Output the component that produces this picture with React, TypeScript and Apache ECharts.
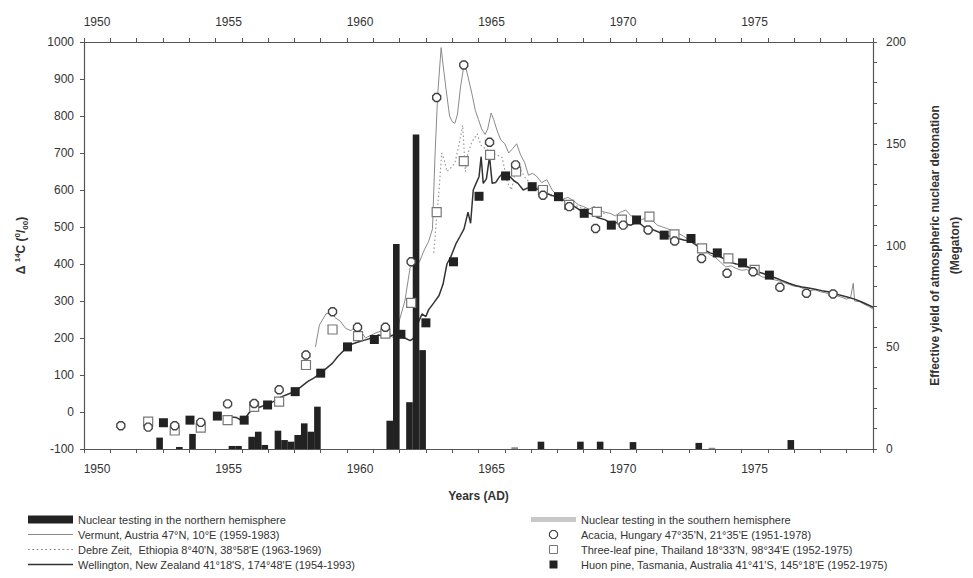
import React, { useEffect, useRef } from 'react';
import * as echarts from 'echarts';

const FONT = '"Liberation Sans", Arial, Helvetica, sans-serif';

// x-axis tick labels (years)
const xLabelYears = [1950, 1955, 1960, 1965, 1970, 1975];
// right-axis labelled values (Megaton)
const rightLabelValues = [0, 50, 100, 150, 200];

// Nuclear testing, quarterly effective yield (Megaton); quarter start year
const northQuarters = [1952.75, 1953.5, 1954.0, 1955.5, 1955.75, 1956.25, 1956.5, 1956.75, 1957.25, 1957.5, 1957.75, 1958.0, 1958.25, 1958.5, 1958.75, 1961.5, 1961.75, 1962.25, 1962.5, 1962.75, 1967.25, 1968.75, 1969.5, 1970.75, 1973.25, 1976.75];
const northYield = [5.6, 1.0, 7.4, 1.5, 1.5, 6.0, 8.5, 2.0, 9.0, 4.4, 3.6, 6.9, 12.6, 8.5, 20.8, 13.9, 100.7, 23.0, 154.6, 48.6, 3.6, 3.6, 3.6, 3.4, 3.0, 4.4];
const southQuarters = [1966.25, 1973.75];
const southYield = [0.8, 0.6];

// Vermunt, Austria (thin grey line)
const vermuntYears = [1958.8, 1958.95, 1959.2, 1959.4, 1959.55, 1959.75, 1959.95, 1960.15, 1960.35, 1960.5, 1960.7, 1960.9, 1961.1, 1961.35, 1961.55, 1961.7, 1961.85, 1962.0, 1962.2, 1962.4, 1962.55, 1962.75, 1962.95, 1963.1, 1963.25, 1963.35, 1963.45, 1963.58, 1963.65, 1963.77, 1963.9, 1964.0, 1964.1, 1964.2, 1964.32, 1964.42, 1964.52, 1964.62, 1964.75, 1964.88, 1965.0, 1965.12, 1965.25, 1965.35, 1965.48, 1965.58, 1965.7, 1965.85, 1966.0, 1966.15, 1966.3, 1966.45, 1966.6, 1966.75, 1966.9, 1967.05, 1967.2, 1967.4, 1967.6, 1967.8, 1968.0, 1968.2, 1968.4, 1968.6, 1968.8, 1969.0, 1969.2, 1969.4, 1969.6, 1969.8, 1970.0, 1970.2, 1970.4, 1970.6, 1970.8, 1971.0, 1971.2, 1971.4, 1971.6, 1971.8, 1972.0, 1972.2, 1972.4, 1972.6, 1972.8, 1973.0, 1973.2, 1973.4, 1973.6, 1973.8, 1974.0, 1974.2, 1974.4, 1974.6, 1974.8, 1975.0, 1975.2, 1975.4, 1975.6, 1975.8, 1976.0, 1976.2, 1976.4, 1976.6, 1976.8, 1977.0, 1977.2, 1977.4, 1977.6, 1977.8, 1978.0, 1978.2, 1978.4, 1978.6, 1978.8, 1979.0, 1979.15, 1979.25, 1979.3, 1979.5, 1979.7, 1979.85, 1980.0];
const vermuntD14C = [176, 235, 265, 272, 255, 245, 226, 220, 232, 222, 200, 207, 214, 220, 222, 205, 192, 250, 300, 390, 400, 405, 440, 460, 495, 700, 860, 985, 940, 870, 800, 785, 780, 805, 880, 925, 930, 900, 860, 815, 790, 765, 750, 765, 808, 790, 762, 735, 725, 700, 712, 725, 695, 675, 640, 645, 638, 620, 628, 600, 585, 575, 580, 572, 560, 555, 548, 555, 545, 540, 537, 530, 540, 546, 530, 528, 520, 525, 518, 505, 500, 495, 488, 483, 475, 466, 460, 445, 435, 425, 418, 405, 392, 395, 388, 383, 385, 375, 372, 365, 362, 358, 355, 350, 345, 340, 338, 332, 328, 330, 325, 322, 318, 315, 310, 305, 310, 348, 300, 298, 290, 285, 278];

// Debre Zeit, Ethiopia (dotted line)
const debreYears = [1963.3, 1963.4, 1963.5, 1963.6, 1963.7, 1963.8, 1963.95, 1964.1, 1964.25, 1964.4, 1964.5, 1964.6, 1964.75, 1964.95, 1965.1, 1965.3, 1965.5, 1965.7, 1965.9, 1966.1, 1966.25, 1966.4, 1966.6, 1966.8, 1967.0, 1967.3, 1967.6, 1968.0, 1968.3, 1968.6, 1969.0, 1969.4, 1969.9];
const debreD14C = [430, 520, 600, 700, 680, 650, 660, 672, 720, 775, 650, 700, 730, 752, 720, 710, 700, 695, 688, 620, 600, 650, 655, 630, 618, 605, 590, 578, 565, 560, 550, 545, 535];

// Wellington, New Zealand (dark line)
const wellingtonYears = [1955.5, 1955.8, 1956.05, 1956.3, 1956.5, 1956.9, 1957.2, 1957.5, 1957.75, 1958.0, 1958.25, 1958.5, 1958.75, 1959.0, 1959.25, 1959.45, 1959.65, 1959.83, 1960.0, 1960.2, 1960.45, 1960.7, 1960.95, 1961.2, 1961.4, 1961.6, 1961.8, 1962.0, 1962.2, 1962.4, 1962.55, 1962.7, 1962.85, 1963.0, 1963.1, 1963.3, 1963.5, 1963.65, 1963.8, 1963.95, 1964.15, 1964.3, 1964.45, 1964.6, 1964.7, 1964.8, 1964.92, 1965.02, 1965.1, 1965.18, 1965.3, 1965.42, 1965.52, 1965.65, 1965.8, 1965.92, 1966.05, 1966.2, 1966.35, 1966.5, 1966.7, 1966.85, 1967.05, 1967.3, 1967.55, 1967.8, 1968.05, 1968.3, 1968.55, 1968.8, 1969.05, 1969.3, 1969.55, 1969.8, 1970.05, 1970.3, 1970.55, 1970.8, 1971.05, 1971.3, 1971.55, 1971.8, 1972.05, 1972.3, 1972.55, 1972.8, 1973.05, 1973.3, 1973.55, 1973.8, 1974.05, 1974.3, 1974.55, 1974.8, 1975.05, 1975.3, 1975.55, 1975.8, 1976.05, 1976.3, 1976.55, 1976.8, 1977.05, 1977.3, 1977.55, 1977.8, 1978.05, 1978.3, 1978.55, 1978.8, 1979.05, 1979.3, 1979.55, 1979.8, 1980.0];
const wellingtonD14C = [-13, -15, -25, 0, 8, 19, 28, 41, 48, 55, 68, 82, 92, 105, 120, 132, 150, 163, 175, 184, 190, 195, 200, 208, 205, 203, 210, 203, 200, 193, 200, 240, 265, 258, 276, 295, 315, 345, 400, 420, 456, 475, 495, 540, 510, 600, 620, 636, 690, 618, 630, 690, 618, 620, 636, 645, 630, 636, 625, 618, 600, 605, 609, 600, 592, 585, 580, 570, 560, 548, 540, 535, 525, 520, 510, 512, 508, 505, 515, 500, 495, 488, 478, 475, 470, 465, 462, 450, 440, 430, 425, 415, 405, 400, 398, 390, 380, 375, 368, 362, 355, 348, 342, 338, 335, 332, 328, 325, 320, 315, 310, 305, 298, 290, 283];

// Acacia, Hungary (open round markers)
const acaciaYears = [1951.4, 1952.44, 1953.45, 1954.44, 1955.46, 1956.47, 1957.42, 1958.44, 1959.45, 1960.4, 1961.46, 1962.44, 1963.41, 1964.44, 1965.42, 1966.41, 1967.45, 1968.45, 1969.45, 1970.5, 1971.45, 1972.46, 1973.48, 1974.45, 1975.44, 1976.46, 1977.47, 1978.48];
const acaciaD14C = [-37, -41, -37, -28, 22, 23, 60, 154, 271, 229, 229, 406, 850, 938, 729, 668, 586, 555, 496, 505, 492, 462, 415, 375, 379, 337, 321, 319];

// Three-leaf pine, Thailand (open squares)
const pineYears = [1952.44, 1953.45, 1954.44, 1955.46, 1956.47, 1957.42, 1958.44, 1959.45, 1960.42, 1961.46, 1962.44, 1963.41, 1964.44, 1965.44, 1966.43, 1967.45, 1968.45, 1969.5, 1970.45, 1971.5, 1972.45, 1973.5, 1974.5, 1975.5];
const pineD14C = [-26, -50, -42, -22, 14, 28, 127, 223, 205, 212, 295, 540, 678, 695, 650, 600, 560, 541, 520, 528, 480, 442, 415, 384];

// Huon pine, Tasmania (filled squares)
const huonYears = [1953.02, 1954.03, 1955.07, 1956.09, 1956.98, 1958.03, 1959.0, 1960.02, 1961.04, 1962.05, 1963.0, 1964.05, 1965.02, 1966.03, 1967.04, 1968.04, 1969.02, 1970.05, 1971.01, 1972.06, 1973.08, 1974.08, 1975.04, 1976.06];
const huonD14C = [-29, -22, -11, -22, 19, 55, 105, 176, 196, 210, 241, 406, 583, 638, 609, 582, 537, 505, 519, 478, 469, 430, 403, 370];

const NAMES = {
  north: 'Nuclear testing in the northern hemisphere',
  vermunt: 'Vermunt, Austria 47°N, 10°E (1959-1983)',
  debre: "Debre Zeit,  Ethiopia 8°40'N, 38°58'E (1963-1969)",
  wellington: "Wellington, New Zealand 41°18'S, 174°48'E (1954-1993)",
  south: 'Nuclear testing in the southern hemisphere',
  acacia: "Acacia, Hungary 47°35'N, 21°35'E (1951-1978)",
  pine: "Three-leaf pine, Thailand 18°33'N, 98°34'E (1952-1975)",
  huon: "Huon pine, Tasmania, Australia 41°41'S, 145°18'E (1952-1975)",
};

const zip = (xs: number[], ys: number[]) => xs.map((x, i) => [x, ys[i]]);

const SQUARE = 'path://M0,0H10V10H0Z';
const OCTAGON = 'path://M3,0H7L10,3V7L7,10H3L0,7V3Z';
const LINE_THIN = 'path://M0,0H45V1H0Z';
const LINE_THICK = 'path://M0,0H45V1.6H0Z';
const BAR_LIGHT = 'path://M0,0H45V5H0Z';
const DOTTED = 'path://' + Array.from({ length: 11 }, (_, i) => `M${i * 4.4},0H${i * 4.4 + 1.8}V1H${i * 4.4}Z`).join('');

const AXIS_COLOR = '#555';
const TEXT_COLOR = '#333';

export default function App() {
  const ref = useRef<HTMLDivElement>(null);

  useEffect(() => {
    if (!ref.current) return;
    const chart = echarts.init(ref.current, null, { renderer: 'svg' });

    const xLabelFmt = (v: number) => (xLabelYears.includes(Math.round(v)) && Math.abs(v - Math.round(v)) < 1e-6 ? String(Math.round(v)) : '');
    const xAxisCommon = {
      type: 'value',
      min: 1950,
      max: 1980,
      interval: 1,
      splitLine: { show: false },
      axisLine: { show: true, onZero: false, lineStyle: { color: AXIS_COLOR, width: 1.2 } },
      axisTick: { show: true, length: 4, lineStyle: { color: AXIS_COLOR } },
      axisLabel: {
        formatter: xLabelFmt,
        color: TEXT_COLOR,
        fontFamily: FONT,
        fontSize: 12,
        margin: 14,
        padding: [0, 0, 0, 26],
      },
    };

    const legendCommon = {
      orient: 'vertical',
      top: 513,
      itemWidth: 45,
      itemHeight: 8,
      itemGap: 2,
      padding: 0,
      selectedMode: false,
      symbolKeepAspect: true,
      textStyle: { fontFamily: FONT, fontSize: 11, color: TEXT_COLOR, lineHeight: 13 },
    };

    chart.setOption({
      animation: false,
      backgroundColor: '#fff',
      textStyle: { fontFamily: FONT },
      grid: { left: 84, right: 100, top: 42, bottom: 129, containLabel: false },
      legend: [
        {
          ...legendCommon,
          left: 28,
          data: [
            { name: NAMES.north, icon: 'rect', itemStyle: { color: '#222', borderWidth: 0 } },
            { name: NAMES.vermunt, icon: LINE_THIN, itemStyle: { color: '#888', borderWidth: 0 } },
            { name: NAMES.debre, icon: DOTTED, itemStyle: { color: '#888', borderWidth: 0 } },
            { name: NAMES.wellington, icon: LINE_THICK, itemStyle: { color: '#333', borderWidth: 0 } },
          ],
        },
        {
          ...legendCommon,
          left: 531,
          data: [
            { name: NAMES.south, icon: BAR_LIGHT, itemStyle: { color: '#c8c8c8', borderWidth: 0 } },
            { name: NAMES.acacia, icon: OCTAGON, itemStyle: { color: '#fff', borderColor: '#444', borderWidth: 1.2 } },
            { name: NAMES.pine, icon: SQUARE, itemStyle: { color: '#fff', borderColor: '#777', borderWidth: 1 } },
            { name: NAMES.huon, icon: SQUARE, itemStyle: { color: '#222', borderWidth: 0 } },
          ],
        },
      ],
      xAxis: [
        {
          ...xAxisCommon,
          position: 'bottom',
          name: 'Years (AD)',
          nameLocation: 'middle',
          nameGap: 41,
          nameTextStyle: { fontFamily: FONT, fontSize: 12, fontWeight: 'bold', color: TEXT_COLOR },
        },
        { ...xAxisCommon, position: 'top' },
      ],
      yAxis: [
        {
          type: 'value',
          position: 'left',
          min: -100,
          max: 1000,
          interval: 100,
          splitLine: { show: false },
          axisLine: { show: true, onZero: false, lineStyle: { color: AXIS_COLOR, width: 1.2 } },
          axisTick: { show: true, length: 4, lineStyle: { color: AXIS_COLOR } },
          axisLabel: { color: TEXT_COLOR, fontFamily: FONT, fontSize: 12, margin: 10, formatter: (v: number) => String(v) },
          name: '{b|Δ }{sup|14}{b|C (}{sup|0}{b|/}{sub|00}{b|)}',
          nameLocation: 'middle',
          nameRotate: 90,
          nameGap: 55,
          nameTextStyle: {
            color: TEXT_COLOR,
            rich: {
              b: { fontFamily: FONT, fontSize: 12, fontWeight: 'bold', color: TEXT_COLOR, lineHeight: 16 },
              sup: { fontFamily: FONT, fontSize: 8, fontWeight: 'bold', color: TEXT_COLOR, verticalAlign: 'top', lineHeight: 16 },
              sub: { fontFamily: FONT, fontSize: 8, fontWeight: 'bold', color: TEXT_COLOR, verticalAlign: 'bottom', lineHeight: 16 },
            },
          },
        },
        {
          type: 'value',
          position: 'right',
          min: 0,
          max: 200,
          interval: 10,
          splitLine: { show: false },
          axisLine: { show: true, onZero: false, lineStyle: { color: AXIS_COLOR, width: 1.2 } },
          axisTick: { show: true, length: 4, lineStyle: { color: AXIS_COLOR } },
          axisLabel: {
            color: TEXT_COLOR,
            fontFamily: FONT,
            fontSize: 12,
            margin: 13,
            formatter: (v: number) => (rightLabelValues.includes(v) ? String(v) : ''),
          },
          name: 'Effective yield of atmospheric nuclear detonation\n(Megaton)',
          nameLocation: 'middle',
          nameRotate: 90,
          nameGap: 52,
          nameTextStyle: { fontFamily: FONT, fontSize: 12, fontWeight: 'bold', color: TEXT_COLOR, lineHeight: 20, align: 'center' },
        },
      ],
      series: [
        {
          name: NAMES.north,
          type: 'bar',
          xAxisIndex: 0,
          yAxisIndex: 1,
          barWidth: 6.6,
          barGap: '-100%',
          itemStyle: { color: '#222' },
          z: 4,
          data: northQuarters.map((q, i) => [q + 0.125, northYield[i]]),
        },
        {
          name: NAMES.south,
          type: 'bar',
          xAxisIndex: 0,
          yAxisIndex: 1,
          barWidth: 6.6,
          barGap: '-100%',
          itemStyle: { color: '#888' },
          z: 4,
          data: southQuarters.map((q, i) => [q + 0.125, southYield[i]]),
        },
        {
          name: NAMES.vermunt,
          type: 'line',
          xAxisIndex: 0,
          yAxisIndex: 0,
          symbol: 'none',
          itemStyle: { color: '#888' },
          lineStyle: { color: '#8a8a8a', width: 1 },
          z: 2,
          data: zip(vermuntYears, vermuntD14C),
        },
        {
          name: NAMES.debre,
          type: 'line',
          xAxisIndex: 0,
          yAxisIndex: 0,
          symbol: 'none',
          itemStyle: { color: '#888' },
          lineStyle: { color: '#999', width: 1.2, type: [1.5, 2.5] },
          z: 2,
          data: zip(debreYears, debreD14C),
        },
        {
          name: NAMES.wellington,
          type: 'line',
          xAxisIndex: 0,
          yAxisIndex: 0,
          symbol: 'none',
          itemStyle: { color: '#333' },
          lineStyle: { color: '#333', width: 1.5 },
          z: 3,
          data: zip(wellingtonYears, wellingtonD14C),
        },
        {
          name: NAMES.acacia,
          type: 'scatter',
          xAxisIndex: 0,
          yAxisIndex: 0,
          symbol: OCTAGON,
          symbolSize: 8,
          itemStyle: { color: '#fff', borderColor: '#444', borderWidth: 1.4, opacity: 1 },
          z: 6,
          data: zip(acaciaYears, acaciaD14C),
        },
        {
          name: NAMES.pine,
          type: 'scatter',
          xAxisIndex: 0,
          yAxisIndex: 0,
          symbol: SQUARE,
          symbolSize: 9,
          itemStyle: { color: '#fff', borderColor: '#777', borderWidth: 1.2, opacity: 1 },
          z: 5,
          data: zip(pineYears, pineD14C),
        },
        {
          name: NAMES.huon,
          type: 'scatter',
          xAxisIndex: 0,
          yAxisIndex: 0,
          symbol: SQUARE,
          symbolSize: 9,
          itemStyle: { color: '#222', opacity: 1 },
          z: 7,
          data: zip(huonYears, huonD14C),
        },
      ],
    });

    return () => chart.dispose();
  }, []);

  return (
    <div
      ref={ref}
      style={{ position: 'fixed', left: 0, top: 0, width: 973, height: 578, background: '#fff' }}
    />
  );
}
